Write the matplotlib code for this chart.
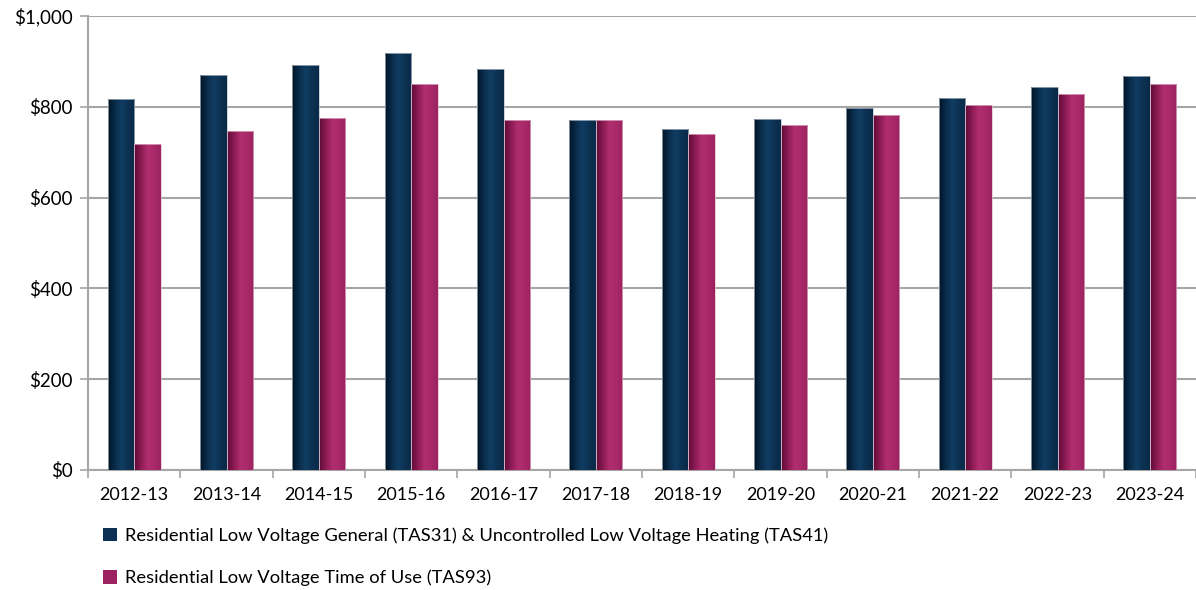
import numpy as np
import matplotlib.pyplot as plt
from matplotlib.patches import Rectangle
from matplotlib.colors import LinearSegmentedColormap

years = ["2012-13", "2013-14", "2014-15", "2015-16", "2016-17", "2017-18",
         "2018-19", "2019-20", "2020-21", "2021-22", "2022-23", "2023-24"]
tas31_41 = [818, 870, 891, 919, 884, 771, 751, 773, 797, 820, 844, 868]
tas93 = [719, 747, 775, 850, 770, 771, 739, 759, 781, 803, 827, 850]

labels = ["Residential Low Voltage General (TAS31) & Uncontrolled Low Voltage Heating (TAS41)",
          "Residential Low Voltage Time of Use (TAS93)"]

navy = LinearSegmentedColormap.from_list("navy", ["#001426", "#0a2c4a", "#113d63", "#0c3152", "#0a2a47"])
magenta = LinearSegmentedColormap.from_list("mag", ["#5e0c36", "#8a1a52", "#b02e6e", "#aa2a69", "#9c2360"])

plt.rcParams['font.family'] = ['Lato', 'DejaVu Sans']

fig = plt.figure(figsize=(11.96, 5.90), dpi=100)
ax = fig.add_axes([0.0736, 0.2034, 0.9264, 0.7696])

x = np.arange(len(years))
w = 0.287
grad = np.linspace(0, 1, 64).reshape(1, -1)


def gradient_bars(xs, vals, cmap, edge):
    # excel-style shaded bars: gradient image clipped to each bar
    for xi, v in zip(xs, vals):
        im = ax.imshow(grad, cmap=cmap, aspect='auto', extent=(xi, xi + w, 0, v),
                       zorder=3, interpolation='bilinear')
        r = Rectangle((xi, 0), w, v, facecolor='none', edgecolor=edge, lw=0.5, zorder=4)
        ax.add_patch(r)
        im.set_clip_path(r)


gradient_bars(x - w, tas31_41, navy, "#b8c0ca")
gradient_bars(x, tas93, magenta, "#e0bccd")

ax.set_xlim(-0.5, len(years) - 0.5)
ax.set_ylim(0, 1000)
ax.set_yticks(np.arange(0, 1001, 200))
ax.set_yticklabels(["${:,}".format(v) for v in range(0, 1001, 200)])
ax.set_xticks(x)
ax.set_xticklabels(years)
ax.set_xticks(np.arange(-0.5, len(years)), minor=True)
ax.tick_params(axis='x', which='major', length=0, pad=12, labelsize=13)
ax.tick_params(axis='x', which='minor', length=6, color='#a6a6a6', width=1.2)
ax.tick_params(axis='y', length=6, color='#a6a6a6', width=1.2, pad=5, labelsize=13.5)
ax.yaxis.grid(True, color='#a6a6a6', lw=1.5, zorder=0)
ax.set_axisbelow(True)
for s in ['top', 'right']:
    ax.spines[s].set_visible(False)
for s in ['left', 'bottom']:
    ax.spines[s].set_color('#a6a6a6')
    ax.spines[s].set_linewidth(1.5)

handles = [Rectangle((0, 0), 1, 1, facecolor="#0c3152"),
           Rectangle((0, 0), 1, 1, facecolor="#9c2360")]
fig.legend(handles, labels, loc='upper left', bbox_to_anchor=(0.0865, 0.106),
           frameon=False, fontsize=13.2, handlelength=0.75, handleheight=0.75,
           handletextpad=0.45, labelspacing=1.4, borderaxespad=0, borderpad=0)

fig.savefig("out.png", dpi=100)
